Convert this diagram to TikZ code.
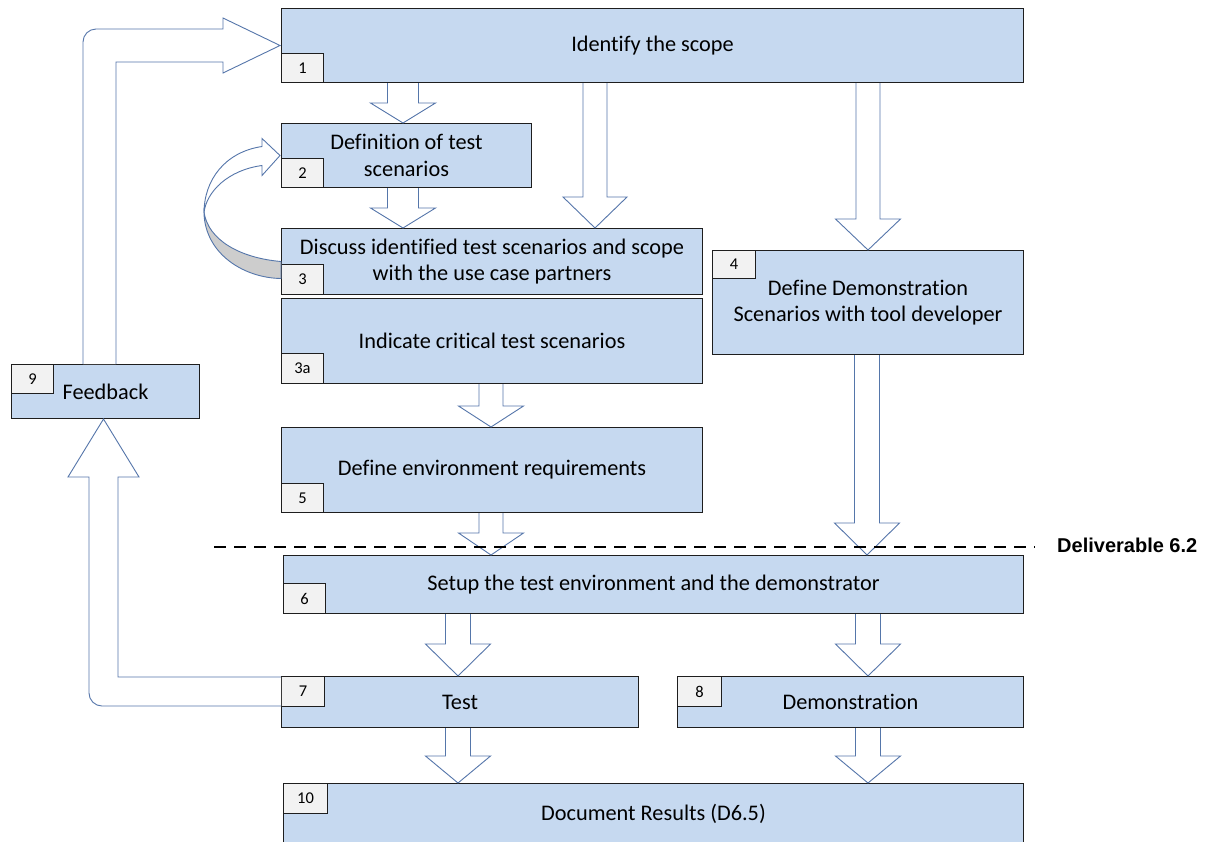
\documentclass[tikz,border=0pt]{standalone}
\usepackage{fontspec}
\setmainfont{Carlito}[Ligatures=NoCommon]
\newfontfamily\delfont{Liberation Sans}
\usetikzlibrary{calc}
\definecolor{boxblue}{RGB}{198,217,240}
\definecolor{numgray}{RGB}{242,242,242}
\definecolor{arrblue}{RGB}{85,118,170}
\definecolor{curvegray}{RGB}{205,205,205}
\definecolor{boxline}{RGB}{30,30,30}
\tikzset{
 box/.style={draw=boxline, fill=boxblue, line width=1pt, anchor=north west, inner sep=2pt, align=center, font=\fontsize{22.3}{26.5}\selectfont},
 numbox/.style={draw=boxline, fill=numgray, line width=1pt, inner sep=0pt, font=\fontsize{16.5}{18}\selectfont, minimum height=29pt, minimum width=42pt},
 barrow/.style={draw=arrblue, fill=white, line width=0.9pt, line join=miter},
 dashline/.style={draw=black, line width=2.5pt, dash pattern=on 12pt off 8pt},
}
\newcommand\blockdown[6]{%
 \draw[barrow] let \p1=(#1.south), \p2=(#2.north) in
  (#3pt-#4pt,\y1) -- (#3pt-#4pt,\y2+#6pt) -- (#3pt-#5pt,\y2+#6pt) -- (#3pt,\y2)
  -- (#3pt+#5pt,\y2+#6pt) -- (#3pt+#4pt,\y2+#6pt) -- (#3pt+#4pt,\y1);}
\begin{document}
\begin{tikzpicture}[x=1pt,y=1pt]
\path[use as bounding box, fill=white] (0,0) rectangle (1206,-841);
% main boxes
\node[box, minimum width=742pt, minimum height=74pt] (b1) at (281,-8) {Identify the scope};
\node[box, minimum width=250pt, minimum height=64pt] (b2) at (281,-123) {Definition of test\\scenarios};
\node[box, minimum width=421pt, minimum height=66pt] (b3) at (281,-228) {Discuss identified test scenarios and scope\\with the use case partners};
\node[box, minimum width=421pt, minimum height=85pt] (b3a) at (281,-298) {Indicate critical test scenarios};
\node[box, minimum width=311pt, minimum height=104pt] (b4) at (712,-250) {Define Demonstration\\Scenarios with tool developer};
\node[box, minimum width=188pt, minimum height=54pt] (b9) at (11,-364) {Feedback};
\node[box, minimum width=421pt, minimum height=85pt] (b5) at (281,-427) {Define environment requirements};
\node[box, minimum width=740pt, minimum height=58pt] (b6) at (283,-555) {Setup the test environment and the demonstrator};
\node[box, minimum width=357pt, minimum height=51pt] (b7) at (281,-676) {Test};
\node[box, minimum width=346pt, minimum height=51pt] (b8) at (677,-676) {Demonstration};
\node[box, minimum width=740pt, minimum height=60pt] (b10) at (283,-783) {Document Results (D6.5)};
% number boxes
\node[numbox, anchor=south west] (n1) at (b1.south west) {1};
\node[numbox, anchor=south west] (n2) at (b2.south west) {2};
\node[numbox, anchor=south west, minimum height=30pt] (n3) at (b3.south west) {3};
\node[numbox, anchor=south west, minimum height=30pt] (n3a) at (b3a.south west) {3a};
\node[numbox, anchor=north west, minimum width=43pt, minimum height=28pt] (n4) at (b4.north west) {4};
\node[numbox, anchor=north west] (n9) at (b9.north west) {9};
\node[numbox, anchor=south west] (n5) at (b5.south west) {5};
\node[numbox, anchor=south west, minimum height=30pt] (n6) at (b6.south west) {6};
\node[numbox, anchor=north west, minimum width=43pt, minimum height=30pt] (n7) at (b7.north west) {7};
\node[numbox, anchor=north west, minimum width=44pt, minimum height=30pt] (n8) at (b8.north west) {8};
\node[numbox, anchor=north west, minimum width=44pt, minimum height=30pt] (n10) at (b10.north west) {10};
% block arrows
\blockdown{b1}{b2}{403}{15.5}{32.5}{20}
\blockdown{b2}{b3}{403}{15.5}{32.5}{20}
\blockdown{b1}{b3}{595}{12}{32}{31}
\blockdown{b1}{b4}{868}{12}{32.5}{31}
\blockdown{b3a}{b5}{491}{12}{32.5}{21}
\blockdown{b5}{b6}{491}{12}{32.5}{22}
\blockdown{b4}{b6}{867}{12.5}{32.5}{32}
\blockdown{b6}{b7}{458}{12.5}{32.5}{32}
\blockdown{b6}{b8}{868}{12.5}{32.5}{32}
\blockdown{b7}{b10}{458}{12.5}{32.5}{27}
\blockdown{b8}{b10}{868}{12.5}{32.5}{27}
% feedback arrow 9 -> 1
\draw[barrow] let \p1=(b9.north), \p2=(b1.west) in
 (83pt,\y1) -- (83pt,\y2+3.5pt) arc[start angle=180,end angle=90,radius=13pt]
 -- (223pt,\y2+16.5pt) -- (223pt,\y2+27.5pt) -- (\x2-1pt,\y2) -- (223pt,\y2-27.5pt)
 -- (223pt,\y2-16.5pt) -- (116pt,\y2-16.5pt) -- (116pt,\y1);
% feedback arrow 7 -> 9
\draw[barrow] let \p1=(b7.north west), \p2=(b9.south) in
 (\x1,\y1-1pt) -- (\x2+12.5pt,\y1-1pt) -- (\x2+12.5pt,\y2-58pt) -- (\x2+33.5pt,\y2-58pt)
 -- (\x2-2pt,\y2) -- (\x2-37.5pt,\y2-58pt) -- (\x2-16.5pt,\y2-58pt)
 -- (\x2-16.5pt,\y1-17pt) arc[start angle=180,end angle=270,radius=13pt] -- (\x1,\y1-30pt);
% curved arrow 3 -> 2
\draw[barrow, fill=curvegray] (204,-214) .. controls (206,-255) and (245,-278) .. ($(b3.west)+(0,-17)$)
 -- (b3.west) .. controls (240,-258) and (208,-240) .. (204,-212) -- cycle;
\draw[barrow] ($(b2.west)+(-19,9)$) .. controls (225,-152) and (204,-180) .. (204,-213)
 .. controls (206,-192) and (228,-170) .. ($(b2.west)+(-19,-10)$) -- ($(b2.west)+(-19,-20)$)
 -- ($(b2.west)+(-1,0)$) -- ($(b2.west)+(-19,17)$) -- cycle;
% deliverable line
\node[anchor=west, inner sep=0pt, font=\delfont\bfseries\fontsize{20}{22}\selectfont] (del) at (1057,-545) {Deliverable 6.2};
\coordinate (dl0) at (214,-547);
\coordinate (dl1) at (1035,-547);
\draw[dashline] (dl0) -- (dl1);
\end{tikzpicture}
\end{document}
